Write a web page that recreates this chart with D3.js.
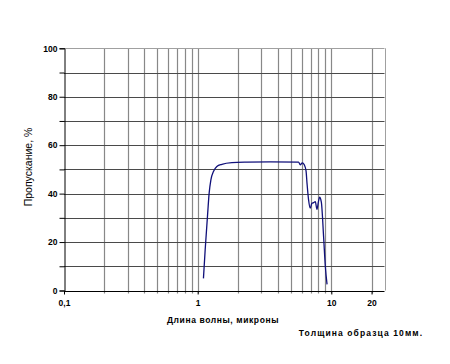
<!DOCTYPE html>
<html>
<head>
<meta charset="utf-8">
<script src="https://cdn.jsdelivr.net/npm/d3@7"></script>
<style>
  body { margin: 0; background: #fff; }
  svg { display: block; font-family: "Liberation Sans", Arial, sans-serif; }
</style>
</head>
<body>
<svg id="chart" width="450" height="364"></svg>
<script>
// data
const wavelength = [1.105, 1.138, 1.184, 1.219, 1.256, 1.313, 1.392, 1.518, 1.804, 2.336, 3.49, 5.69,
    5.86, 6.06, 6.28, 6.47, 6.58, 6.76, 6.96, 7.16, 7.37, 7.59, 7.81, 8.03, 8.17, 8.42, 8.76, 9.02, 9.29];
const transmission = [5.0, 16.7, 30.5, 40.2, 45.7, 49.1, 51.2, 52.1, 52.8, 53.0, 53.1, 53.0,
    51.9, 52.7, 51.9, 49.4, 44.3, 37.4, 34.0, 36.0, 36.3, 36.7, 33.5, 37.0, 38.5, 36.5, 22.0, 10.0, 2.5];
const xTickLabels = [[0.1, "0,1"], [1, "1"], [10, "10"], [20, "20"]];
const xGrid = [0.2, 0.3, 0.4, 0.5, 0.6, 0.7, 0.8, 0.9, 1, 2, 3, 4, 5, 6, 7, 8, 9, 10, 20];
const yTicks = [0, 10, 20, 30, 40, 50, 60, 70, 80, 90, 100];

const svg = d3.select('#chart');
const m = {left: 64, right: 65.5, top: 48.3, bottom: 73.5};
const W = 450, H = 364;

const x = d3.scaleLog().domain([0.1, 25]).range([m.left, W - m.right]);
const y = d3.scaleLinear().domain([0, 100]).range([H - m.bottom, m.top]);

// grid
svg.append('g').selectAll('line').data(xGrid).join('line')
    .attr('x1', d => Math.round(x(d)) + 0.5).attr('x2', d => Math.round(x(d)) + 0.5)
    .attr('y1', y(100)).attr('y2', y(0) + 3)
    .attr('stroke', '#888').attr('stroke-width', 1.2);
svg.append('g').selectAll('line').data(yTicks.filter(d => d > 0 && d < 100)).join('line')
    .attr('x1', x(0.1)).attr('x2', x(25))
    .attr('y1', d => Math.round(y(d)) + 0.5).attr('y2', d => Math.round(y(d)) + 0.5)
    .attr('stroke', '#4a4a4a').attr('stroke-width', 1);

// frame: top/right gray
svg.append('line').attr('x1', x(0.1)).attr('x2', x(25))
    .attr('y1', Math.round(y(100)) + 0.5).attr('y2', Math.round(y(100)) + 0.5)
    .attr('stroke', '#a0a0a0');
svg.append('line').attr('x1', Math.round(x(25)) + 0.5).attr('x2', Math.round(x(25)) + 0.5)
    .attr('y1', y(100)).attr('y2', y(0))
    .attr('stroke', '#a0a0a0');

// y axis
const yAxis = d3.axisLeft(y).tickValues(yTicks).tickSize(5).tickPadding(2)
    .tickFormat(d => d % 20 === 0 ? d : '');
const gy = svg.append('g').attr('transform', `translate(${Math.round(x(0.1)) + 0.5},0)`).call(yAxis);
gy.select('.domain').attr('stroke', '#000');
gy.selectAll('.tick line').attr('stroke', '#000');
gy.selectAll('.tick text').attr('font-size', 8.5).attr('font-weight', 'bold').attr('fill', '#000')
    .attr('font-family', '"Liberation Sans", Arial, sans-serif');

// x axis
const xAxis = d3.axisBottom(x).tickValues(xTickLabels.map(d => d[0])).tickSize(3).tickPadding(5)
    .tickFormat(d => new Map(xTickLabels).get(d));
const gx = svg.append('g').attr('transform', `translate(0,${Math.round(y(0)) + 0.5})`).call(xAxis);
gx.select('.domain').attr('stroke', '#000').attr('d', `M${x(0.1)},0H${x(25)}`);
gx.selectAll('.tick line').attr('stroke', '#000');
gx.selectAll('.tick text').attr('font-size', 8.5).attr('font-weight', 'bold').attr('fill', '#000')
    .attr('font-family', '"Liberation Sans", Arial, sans-serif');

// curve
const line = d3.line().x((d, i) => x(wavelength[i])).y(d => y(d)).curve(d3.curveMonotoneX);
svg.append('path').datum(transmission).attr('d', line)
    .attr('fill', 'none').attr('stroke', '#10107a').attr('stroke-width', 1.3);

// titles
svg.append('text').attr('x', 223).attr('y', 323).attr('text-anchor', 'middle')
    .attr('font-size', 8.5).attr('font-weight', 'bold').attr('letter-spacing', 0.6)
    .text('Длина волны, микроны');
svg.append('text').attr('x', 361).attr('y', 335.5).attr('text-anchor', 'middle')
    .attr('font-size', 8.5).attr('font-weight', 'bold').attr('letter-spacing', 1.1)
    .text('Толщина образца 10мм.');
svg.append('text').attr('transform', 'translate(32,167) rotate(-90)').attr('text-anchor', 'middle')
    .attr('font-size', 10.5)
    .text('Пропускание, %');
</script>
</body>
</html>
